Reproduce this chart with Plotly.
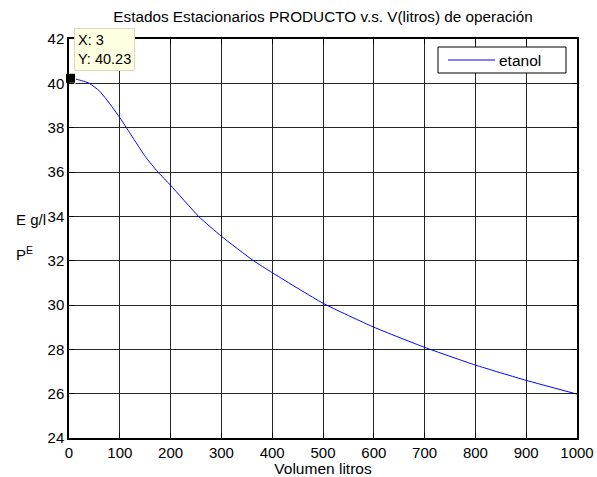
import plotly.graph_objects as go

# Data
volumen = [3, 17, 40, 60, 73, 86, 100, 113, 130, 150, 175, 200, 255, 300, 363, 400, 500, 600, 700, 800, 900, 1000]
etanol = [40.23, 40.17, 40.00, 39.65, 39.30, 38.90, 38.45, 38.00, 37.40, 36.70, 36.00, 35.40, 34.00, 33.10, 32.00, 31.46, 30.08, 29.00, 28.09, 27.29, 26.60, 25.98]
series_name = "etanol"
x_ticks = [0, 100, 200, 300, 400, 500, 600, 700, 800, 900, 1000]
y_ticks = [24, 26, 28, 30, 32, 34, 36, 38, 40, 42]
cursor_x = [3]
cursor_y = [40.23]

FONT = "Liberation Sans, Arial, sans-serif"
FS = 15
LINE_COLOR = "#0000FF"

fig = go.Figure()
fig.add_trace(go.Scatter(x=volumen, y=etanol, mode="lines", name=series_name, showlegend=False,
                         line=dict(color=LINE_COLOR, width=1, shape="spline", smoothing=0.5)))
fig.add_trace(go.Scatter(x=cursor_x, y=cursor_y, mode="markers", showlegend=False,
                         marker=dict(symbol="square", size=10, color="black",
                                     line=dict(color="#FFFFE1", width=1)),
                         cliponaxis=False))

axis_common = dict(showline=True, linecolor="black", linewidth=1.5, mirror="allticks",
                   ticks="inside", ticklen=5, tickcolor="black",
                   showgrid=True, gridcolor="#262626", gridwidth=1, zeroline=False,
                   automargin=False,
                   tickfont=dict(family=FONT, size=FS, color="black"))

PW, PH, L, T = 508, 399, 69, 39


def px(xp):
    return (xp - L) / PW


def py(yp):
    return (T + PH - yp) / PH


fig.update_layout(
    width=597, height=477,
    margin=dict(l=L, r=20, t=T, b=39),
    paper_bgcolor="white", plot_bgcolor="white",
    font=dict(family=FONT, size=FS, color="black"),
    title=dict(text="Estados Estacionarios PRODUCTO v.s. V(litros) de operación",
               x=323 / 597, xanchor="center", y=1 - 17 / 477, yanchor="middle",
               font=dict(family=FONT, size=15.3, color="black")),
    xaxis=dict(range=[0, 1000], tickvals=x_ticks,
               title=dict(text="Volumen litros", standoff=2, font=dict(family=FONT, size=15.5)),
               **axis_common),
    yaxis=dict(range=[24, 42], tickvals=y_ticks, **axis_common),
    showlegend=False,
)

# legend box (drawn to match the reference proportions)
fig.add_shape(type="rect", xref="paper", yref="paper", x0=px(438), x1=px(566), y0=py(73), y1=py(47),
              line=dict(color="black", width=1), fillcolor="white", layer="above")
fig.add_shape(type="line", xref="paper", yref="paper", x0=px(448), x1=px(495), y0=py(60), y1=py(60),
              line=dict(color=LINE_COLOR, width=1), layer="above")
fig.add_annotation(text=series_name, xref="paper", yref="paper", x=px(497), y=py(60),
                   xanchor="left", yanchor="middle", showarrow=False,
                   font=dict(family=FONT, size=15.5, color="black"))

# y-axis label as rendered in the reference
fig.add_annotation(text="E g/l", xref="paper", yref="paper", x=px(14), y=py(219),
                   xanchor="left", yanchor="middle", showarrow=False,
                   font=dict(family=FONT, size=15, color="black"))
fig.add_annotation(text="P<sup>E</sup>", xref="paper", yref="paper", x=px(14), y=py(253),
                   xanchor="left", yanchor="middle", showarrow=False,
                   font=dict(family=FONT, size=15, color="black"))

# data cursor tooltip
fig.add_annotation(text=f"X: {cursor_x[0]}<br>Y: {cursor_y[0]}", xref="paper", yref="paper",
                   x=px(74), y=py(28), xanchor="left", yanchor="top",
                   align="left", showarrow=False, bgcolor="#FFFFE1", bordercolor="#D8D8C0",
                   borderwidth=1, borderpad=3,
                   font=dict(family=FONT, size=14.5, color="black"))

fig.write_html("out.html")
